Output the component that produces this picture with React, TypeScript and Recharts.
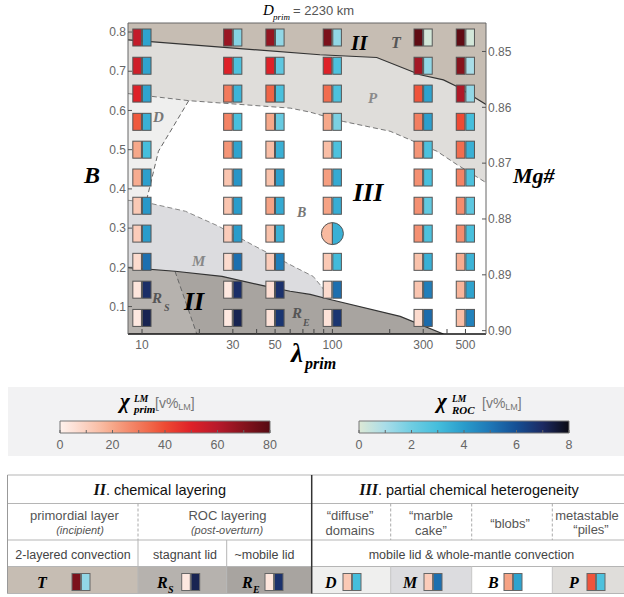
import React from "react";
import {
  Area,
  ComposedChart,
  Line,
  ReferenceLine,
  Scatter,
  XAxis,
  YAxis,
} from "recharts";

const SERIF = '"Liberation Serif", "DejaVu Serif", serif';
const SANS = '"Liberation Sans", Arial, sans-serif';

// grid of runs: lambda_prim columns, B rows (top -> bottom)
const lambdaPrim = [10, 30, 50, 100, 300, 500];
const bRows = [0.786, 0.714, 0.643, 0.571, 0.5, 0.429, 0.357, 0.286, 0.214, 0.143, 0.071];

// chi_prim^LM [v%], one list per lambda column
const chiPrim10 = [57, 54, 50, 37, 20, 19, 12, 11, 7, 4, 3];
const chiPrim30 = [66, 50, 30, 28, 24, 13, 13, 11, 7, 3, 3];
const chiPrim50 = [67, 50, 35, 20, 15, 14, 21, 14, 11, 6, 5];
const chiPrim100 = [72, 50, 33, 20, 15, 22, 21, 16, 12, 7, 5];
const chiPrim300 = [78, 64, 38, 29, 24, 25, 25, 25, 14, 13, 7];
const chiPrim500 = [78, 70, 62, 40, 33, 28, 26, 26, 19, 17, 15];

// chi_ROC^LM [v%]
const chiRoc10 = [3.8, 3.8, 3.8, 3.4, 3.0, 3.9, 4.1, 4.0, 5.2, 6.9, 7.2];
const chiRoc30 = [1.6, 2.8, 3.3, 2.9, 3.8, 4.2, 4.0, 4.0, 5.2, 6.9, 7.2];
const chiRoc50 = [1.4, 2.4, 2.9, 2.2, 3.4, 3.9, 3.6, 3.4, 4.8, 6.8, 6.7];
const chiRoc100 = [1.4, 2.8, 2.8, 1.8, 2.8, 3.6, 3.5, 3.4, 3.1, 5.2, 6.7];
const chiRoc300 = [0.2, 1.4, 3.8, 3.9, 2.8, 2.9, 2.3, 2.8, 3.4, 4.8, 5.3];
const chiRoc500 = [0.2, 1.0, 1.4, 3.0, 3.4, 2.8, 2.4, 2.9, 3.3, 3.8, 4.7];

const chiPrim = [chiPrim10, chiPrim30, chiPrim50, chiPrim100, chiPrim300, chiPrim500];
const chiRoc = [chiRoc10, chiRoc30, chiRoc50, chiRoc100, chiRoc300, chiRoc500];

// the reference run drawn as a circle
const circleRun = { lambda: 100, b: 0.286 };

// regime boundaries (lambda, B)
const bTop = 0.823;
const bBottom = 0.03;
const tBoundary = [
  { x: 8.44, y: 0.78 }, { x: 86, y: 0.742 }, { x: 171, y: 0.735 }, { x: 289, y: 0.691 },
  { x: 383, y: 0.678 }, { x: 451, y: 0.661 }, { x: 641, y: 0.615 },
];
const pBoundary = [
  { x: 8.44, y: 0.643 }, { x: 17.6, y: 0.625 }, { x: 60, y: 0.606 }, { x: 76, y: 0.596 },
  { x: 114, y: 0.572 }, { x: 201, y: 0.547 }, { x: 354, y: 0.496 }, { x: 451, y: 0.462 },
  { x: 641, y: 0.416 },
];
const dBoundary = [
  { x: 17.6, y: 0.625 }, { x: 12.2, y: 0.496 }, { x: 11.06, y: 0.411 }, { x: 10.5, y: 0.366 },
];
const mBoundary = [
  { x: 8.44, y: 0.371 }, { x: 10.4, y: 0.366 }, { x: 16.9, y: 0.343 }, { x: 25.2, y: 0.305 },
  { x: 37.8, y: 0.258 }, { x: 63.8, y: 0.2 }, { x: 79.2, y: 0.177 }, { x: 88.4, y: 0.149 },
  { x: 97.3, y: 0.118 },
];
const rBoundary = [
  { x: 8.44, y: 0.199 }, { x: 14.9, y: 0.19 }, { x: 26.3, y: 0.177 }, { x: 44.4, y: 0.152 },
  { x: 60, y: 0.139 }, { x: 76.4, y: 0.131 }, { x: 97.3, y: 0.118 }, { x: 227, y: 0.075 },
  { x: 383, y: 0.03 },
];
const rsDivider = [{ x: 14.9, y: 0.19 }, { x: 19.4, y: 0.03 }];
const dBand = [
  { x: 8.44, band: [0.371, 0.643] }, { x: 10.5, band: [0.366, 0.639] },
  { x: 11.06, band: [0.411, 0.637] }, { x: 12.2, band: [0.496, 0.634] },
  { x: 17.6, band: [0.625, 0.625] },
];
const rsBand = [
  { x: 8.44, band: [0.03, 0.199] }, { x: 14.9, band: [0.03, 0.19] }, { x: 19.4, band: [0.03, 0.03] },
];

const xTicks = [10, 20, 30, 40, 50, 60, 70, 80, 90, 100, 200, 300, 400, 500];
const xLabelled = [10, 30, 50, 100, 300, 500];
const bTicks = [0.1, 0.2, 0.3, 0.4, 0.5, 0.6, 0.7, 0.8];
const mgTicks = [0.85, 0.86, 0.87, 0.88, 0.89, 0.9];

// colour maps
const primStops: [number, string][] = [
  [0, "#fff2ec"], [5, "#fde2d8"], [10, "#fbd0bf"], [15, "#f9bea6"], [20, "#f6a88a"],
  [25, "#f49072"], [30, "#f27a5c"], [35, "#f06446"], [40, "#ee4a33"], [50, "#de2128"],
  [60, "#b81a2b"], [70, "#86131d"], [80, "#560a12"],
];
const rocStops: [number, string][] = [
  [0, "#dde9d5"], [1, "#a9dde8"], [2, "#6fcde2"], [3, "#45bedc"], [4, "#2a9ccb"],
  [5, "#1f77b6"], [6, "#154f94"], [7, "#1c2a62"], [8, "#0a0a12"],
];
const primBarTicks = [0, 10, 20, 30, 40, 50, 60, 70, 80];
const primBarLabels = [0, 20, 40, 60, 80];
const rocBarTicks = [0, 1, 2, 3, 4, 5, 6, 7, 8];
const rocBarLabels = [0, 2, 4, 6, 8];

// legend table swatches (chi_prim, chi_ROC)
const regimeKeys = ["T", "RS", "RE", "D", "M", "B", "P"];
const regimePrim = [72, 3, 4, 12, 11, 21, 38];
const regimeRoc = [1.4, 7.2, 6.8, 3.0, 5.2, 3.8, 2.8];

const regionColor = {
  T: "#c6bdb3", P: "#dfddda", D: "#efefee", M: "#dcdcdf", B: "#ffffff", RS: "#b6b2ae", RE: "#a8a4a0",
};

function hexToRgb(h: string) {
  const n = parseInt(h.slice(1), 16);
  return [n >> 16, (n >> 8) & 255, n & 255];
}

function colorAt(stops: [number, string][], v: number) {
  if (v <= stops[0][0]) return stops[0][1];
  for (let i = 1; i < stops.length; i++) {
    const [v1, c1] = stops[i];
    if (v <= v1) {
      const [v0, c0] = stops[i - 1];
      const t = (v - v0) / (v1 - v0);
      const a = hexToRgb(c0);
      const b = hexToRgb(c1);
      return `rgb(${a.map((x, k) => Math.round(x + (b[k] - x) * t)).join(",")})`;
    }
  }
  return stops[stops.length - 1][1];
}

const runs = lambdaPrim.flatMap((lam, ci) =>
  bRows.map((b, ri) => ({
    x: lam,
    y: b,
    prim: chiPrim[ci][ri],
    roc: chiRoc[ci][ri],
    circle: lam === circleRun.lambda && b === circleRun.b,
  }))
);

const band = (pts: { x: number; y: number }[], lo: number | null, hi: number | null) =>
  pts.map((p) => ({ x: p.x, band: [lo ?? p.y, hi ?? p.y] }));

function RunMark(props: any) {
  const { cx, cy, payload } = props;
  if (!Number.isFinite(cx) || !Number.isFinite(cy)) return null;
  const red = colorAt(primStops, payload.prim);
  const blue = colorAt(rocStops, payload.roc);
  if (payload.circle) {
    const r = 11;
    return (
      <g>
        <path d={`M${cx},${cy - r} A${r},${r} 0 0 0 ${cx},${cy + r} Z`} fill={red} stroke="#555" />
        <path d={`M${cx},${cy - r} A${r},${r} 0 0 1 ${cx},${cy + r} Z`} fill={blue} stroke="#555" />
      </g>
    );
  }
  return (
    <g>
      <rect x={cx - 9.2} y={cy - 8.5} width={8.6} height={17} fill={red} stroke="#555" />
      <rect x={cx + 0.4} y={cy - 8.5} width={8.6} height={17} fill={blue} stroke="#555" />
    </g>
  );
}

const tickStyle = { fontSize: 12, fill: "#666", fontFamily: SANS };

function RegimeChart() {
  const areaProps = { type: "linear" as const, dataKey: "band", yAxisId: "b", stroke: "none", fillOpacity: 1, isAnimationActive: false, activeDot: false, dot: false };
  const lineProps = { type: "linear" as const, dataKey: "y", yAxisId: "b", dot: false, activeDot: false, isAnimationActive: false };
  return (
    <div style={{ position: "absolute", left: 0, top: 0 }}>
      <ComposedChart width={624} height={370} margin={{ top: 23, right: 88, bottom: 6, left: 88 }}>
        <XAxis
          dataKey="x"
          type="number"
          scale="log"
          domain={[8.44, 641]}
          allowDataOverflow
          ticks={xTicks}
          interval={0}
          tickFormatter={(v: number) => (xLabelled.includes(v) ? String(v) : "")}
          tick={tickStyle}
          tickLine={{ stroke: "#444" }}
          axisLine={{ stroke: "#111", strokeWidth: 1.6 }}
          tickSize={-5}
          tickMargin={11.5}
          height={30}
        />
        <YAxis
          yAxisId="b"
          type="number"
          domain={[bBottom, bTop]}
          allowDataOverflow
          ticks={bTicks}
          interval={0}
          tickFormatter={(v: number) => v.toFixed(1)}
          tick={tickStyle}
          tickLine={{ stroke: "#555" }}
          axisLine={{ stroke: "#666" }}
          tickSize={-4}
          tickMargin={6}
          width={40}
        />
        <YAxis
          yAxisId="mg"
          orientation="right"
          type="number"
          domain={[0.8449, 0.9006]}
          reversed
          allowDataOverflow
          ticks={mgTicks}
          interval={0}
          tickFormatter={(v: number) => v.toFixed(2)}
          tick={tickStyle}
          tickLine={{ stroke: "#555" }}
          axisLine={{ stroke: "#666" }}
          tickSize={-4}
          tickMargin={6}
          width={50}
        />
        <Area {...areaProps} data={band(pBoundary, null, bTop)} fill={regionColor.P} />
        <Area {...areaProps} data={band(tBoundary, null, bTop)} fill={regionColor.T} />
        <Area {...areaProps} data={dBand} fill={regionColor.D} />
        <Area {...areaProps} data={band(mBoundary, bBottom, null)} fill={regionColor.M} />
        <Area {...areaProps} data={band(rBoundary, bBottom, null)} fill={regionColor.RE} />
        <Area {...areaProps} data={rsBand} fill={regionColor.RS} />
        <Line {...lineProps} data={pBoundary} stroke="#777" strokeDasharray="5 3" strokeWidth={1} />
        <Line {...lineProps} data={dBoundary} stroke="#666" strokeDasharray="5 3" strokeWidth={1} />
        <Line {...lineProps} data={mBoundary} stroke="#888" strokeDasharray="5 3" strokeWidth={1} />
        <Line {...lineProps} data={rsDivider} stroke="#666" strokeDasharray="5 3" strokeWidth={1} />
        <Line {...lineProps} data={tBoundary} stroke="#333" strokeWidth={1.2} />
        <Line {...lineProps} data={rBoundary} stroke="#333" strokeWidth={1.2} />
        <ReferenceLine yAxisId="b" y={bTop} stroke="#666" />
        <Scatter data={runs} dataKey="y" yAxisId="b" shape={RunMark} isAnimationActive={false} />
      </ComposedChart>
    </div>
  );
}

function ColorBar({ stops, max, ticks, labels, left, gradId }: {
  stops: [number, string][]; max: number; ticks: number[]; labels: number[]; left: number; gradId: string;
}) {
  const bar = [{ v: 0, span: [0, 1] }, { v: max, span: [0, 1] }];
  return (
    <div style={{ position: "absolute", left, top: 420 }}>
      <ComposedChart width={300} height={39} margin={{ top: 1, right: 31, bottom: 0, left: 59 }}>
        <defs>
          <linearGradient id={gradId} x1="0" y1="0" x2="1" y2="0">
            {stops.map(([v, c]) => (
              <stop key={v} offset={v / max} stopColor={c} />
            ))}
          </linearGradient>
        </defs>
        <XAxis
          dataKey="v"
          type="number"
          domain={[0, max]}
          ticks={ticks}
          interval={0}
          tickFormatter={(v: number) => (labels.includes(v) ? String(v) : "")}
          tick={{ fontSize: 12.5, fill: "#666", fontFamily: SANS }}
          tickLine={{ stroke: "#666" }}
          axisLine={false}
          tickSize={-3}
          tickMargin={10.5}
          height={26}
        />
        <YAxis hide type="number" domain={[0, 1]} />
        <Area
          data={bar}
          dataKey="span"
          type="linear"
          fill={`url(#${gradId})`}
          fillOpacity={1}
          stroke="#777"
          strokeWidth={1}
          dot={false}
          activeDot={false}
          isAnimationActive={false}
        />
        <ReferenceLine x={0} stroke="#777" />
        <ReferenceLine x={max} stroke="#777" />
      </ComposedChart>
    </div>
  );
}

function Txt(props: any) {
  const { children, ...rest } = props;
  return <text {...rest}>{children}</text>;
}

const serifBI = { fontFamily: SERIF, fontWeight: 700, fontStyle: "italic" as const };

// table layout
const rowY = [475, 503.5, 540, 566.5, 593.5];
const tLeft = 7.5;
const tMid = 311.7;
const tRight = 630;
const cellX = [tLeft, 138, 226.7, tMid, 390.7, 471.7, 552.3, tRight];
const letterX = [37, 157, 242, 325, 403, 488, 569];
const swatchX = [72, 181.7, 265, 343, 424, 504, 587];

function Overlay() {
  return (
    <svg width={624} height={597} style={{ position: "absolute", left: 0, top: 0, pointerEvents: "none" }}>
      {/* title */}
      <Txt x={263} y={15} fontFamily={SERIF} fontStyle="italic" fontSize={15}>D</Txt>
      <Txt x={273} y={19.5} fontFamily={SERIF} fontStyle="italic" fontSize={9}>prim</Txt>
      <Txt x={293} y={15} fontFamily={SANS} fontSize={13} fill="#555">= 2230 km</Txt>

      {/* axis titles */}
      <Txt x={84} y={183} {...serifBI} fontSize={24}>B</Txt>
      <Txt x={513} y={183} {...serifBI} fontSize={22}>Mg#</Txt>
      <Txt x={291} y={362} {...serifBI} fontSize={27}>λ</Txt>
      <Txt x={305} y={369} {...serifBI} fontSize={16}>prim</Txt>

      {/* regime labels */}
      <Txt x={351} y={50} {...serifBI} fontSize={21}>II</Txt>
      <Txt x={391} y={48.3} {...serifBI} fontSize={16} fill="#555">T</Txt>
      <Txt x={368} y={103} {...serifBI} fontSize={15} fill="#8a8a8a">P</Txt>
      <Txt x={153} y={122} {...serifBI} fontSize={15} fill="#777">D</Txt>
      <Txt x={353} y={200.7} {...serifBI} fontSize={26}>III</Txt>
      <Txt x={297} y={217} {...serifBI} fontSize={14} fill="#777">B</Txt>
      <Txt x={192} y={266} {...serifBI} fontSize={15} fill="#888">M</Txt>
      <Txt x={152} y={303} {...serifBI} fontSize={15} fill="#555">R</Txt>
      <Txt x={164} y={311} {...serifBI} fontSize={10} fill="#555">S</Txt>
      <Txt x={184} y={310} {...serifBI} fontSize={26}>II</Txt>
      <Txt x={292} y={318} {...serifBI} fontSize={15} fill="#555">R</Txt>
      <Txt x={303} y={326} {...serifBI} fontSize={10} fill="#555">E</Txt>

      {/* colour bar titles */}
      <Txt x={120} y={408} {...serifBI} fontSize={21}>χ</Txt>
      <Txt x={134} y={402} {...serifBI} fontSize={9.5}>LM</Txt>
      <Txt x={134} y={413} {...serifBI} fontSize={11}>prim</Txt>
      <Txt x={155} y={408} fontFamily={SANS} fontSize={14} fill="#777">
        [v%<tspan fontSize={9} dy={1.5}>LM</tspan>
        <tspan dy={-1.5}>]</tspan>
      </Txt>
      <Txt x={437} y={408} {...serifBI} fontSize={21}>χ</Txt>
      <Txt x={452} y={402} {...serifBI} fontSize={9.5}>LM</Txt>
      <Txt x={452} y={414} {...serifBI} fontSize={11}>ROC</Txt>
      <Txt x={482} y={408} fontFamily={SANS} fontSize={14} fill="#777">
        [v%<tspan fontSize={9} dy={1.5}>LM</tspan>
        <tspan dy={-1.5}>]</tspan>
      </Txt>

      {/* table: coloured regime row */}
      {regimeKeys.map((k, i) => (
        <rect key={k} x={cellX[i]} y={rowY[3]} width={cellX[i + 1] - cellX[i]} height={rowY[4] - rowY[3]} fill={(regionColor as any)[k]} />
      ))}
      {rowY.map((y) => (
        <line key={y} x1={tLeft} x2={tRight} y1={y} y2={y} stroke="#b5b5b5" />
      ))}
      <line x1={tLeft} x2={tLeft} y1={rowY[0]} y2={rowY[4]} stroke="#999" />
      <line x1={tMid} x2={tMid} y1={rowY[0]} y2={rowY[4]} stroke="#333" strokeWidth={1.5} />
      {[138, 390.7, 471.7, 552.3].map((x) => (
        <line key={`d${x}`} x1={x} x2={x} y1={rowY[1]} y2={rowY[2]} stroke="#aaa" strokeDasharray="3 2" />
      ))}
      {[138, 226.7].map((x) => (
        <line key={`s${x}`} x1={x} x2={x} y1={rowY[2]} y2={rowY[4]} stroke="#b5b5b5" />
      ))}
      {[390.7, 471.7, 552.3].map((x) => (
        <line key={`r${x}`} x1={x} x2={x} y1={rowY[3]} y2={rowY[4]} stroke="#c5c5c5" />
      ))}

      <Txt x={159.7} y={494.5} textAnchor="middle" fontFamily={SANS} fontSize={14.5} fill="#111">
        <tspan {...serifBI} fontSize={16}>II</tspan>. chemical layering
      </Txt>
      <Txt x={469} y={494.5} textAnchor="middle" fontFamily={SANS} fontSize={14.5} fill="#111">
        <tspan {...serifBI} fontSize={16}>III</tspan>. partial chemical heterogeneity
      </Txt>

      <g fontFamily={SANS} fontSize={13} fill="#555" textAnchor="middle">
        <text x={74.5} y={519.5}>primordial layer</text>
        <text x={80} y={533.5} fontSize={11} fontStyle="italic">(incipient)</text>
        <text x={227.5} y={519.5}>ROC layering</text>
        <text x={227} y={533.5} fontSize={11} fontStyle="italic">(post-overturn)</text>
        <text x={350} y={520}>“diffuse”</text>
        <text x={350} y={534.5}>domains</text>
        <text x={431} y={520}>“marble</text>
        <text x={431} y={534.5}>cake”</text>
        <text x={510} y={527.5}>“blobs”</text>
        <text x={587} y={520}>metastable</text>
        <text x={591} y={534}>“piles”</text>
      </g>
      <g fontFamily={SANS} fontSize={12.5} fill="#444" textAnchor="middle">
        <text x={73} y={558.5}>2-layered convection</text>
        <text x={185} y={558.5}>stagnant lid</text>
        <text x={264.5} y={558.5}>~mobile lid</text>
        <text x={471.5} y={558.5}>mobile lid &amp; whole-mantle convection</text>
      </g>

      {regimeKeys.map((k, i) => (
        <g key={`sw${k}`}>
          <text x={letterX[i]} y={587.5} {...serifBI} fontSize={16}>
            {k[0]}
          </text>
          {k.length > 1 && (
            <text x={letterX[i] + 11} y={593} {...serifBI} fontSize={10}>
              {k[1]}
            </text>
          )}
          <rect x={swatchX[i]} y={573.5} width={8.6} height={17} fill={colorAt(primStops, regimePrim[i])} stroke="#666" />
          <rect x={swatchX[i] + 9.4} y={573.5} width={8.6} height={17} fill={colorAt(rocStops, regimeRoc[i])} stroke="#666" />
        </g>
      ))}
    </svg>
  );
}

export default function App() {
  return (
    <div style={{ position: "absolute", left: 0, top: 0, width: 624, height: 597, background: "#fff", overflow: "hidden" }}>
      <RegimeChart />
      <div style={{ position: "absolute", left: 8, top: 387, width: 616, height: 69, background: "#f2f2f3" }} />
      <ColorBar stops={primStops} max={80} ticks={primBarTicks} labels={primBarLabels} left={1} gradId="gradPrim" />
      <ColorBar stops={rocStops} max={8} ticks={rocBarTicks} labels={rocBarLabels} left={300} gradId="gradRoc" />
      <Overlay />
    </div>
  );
}
